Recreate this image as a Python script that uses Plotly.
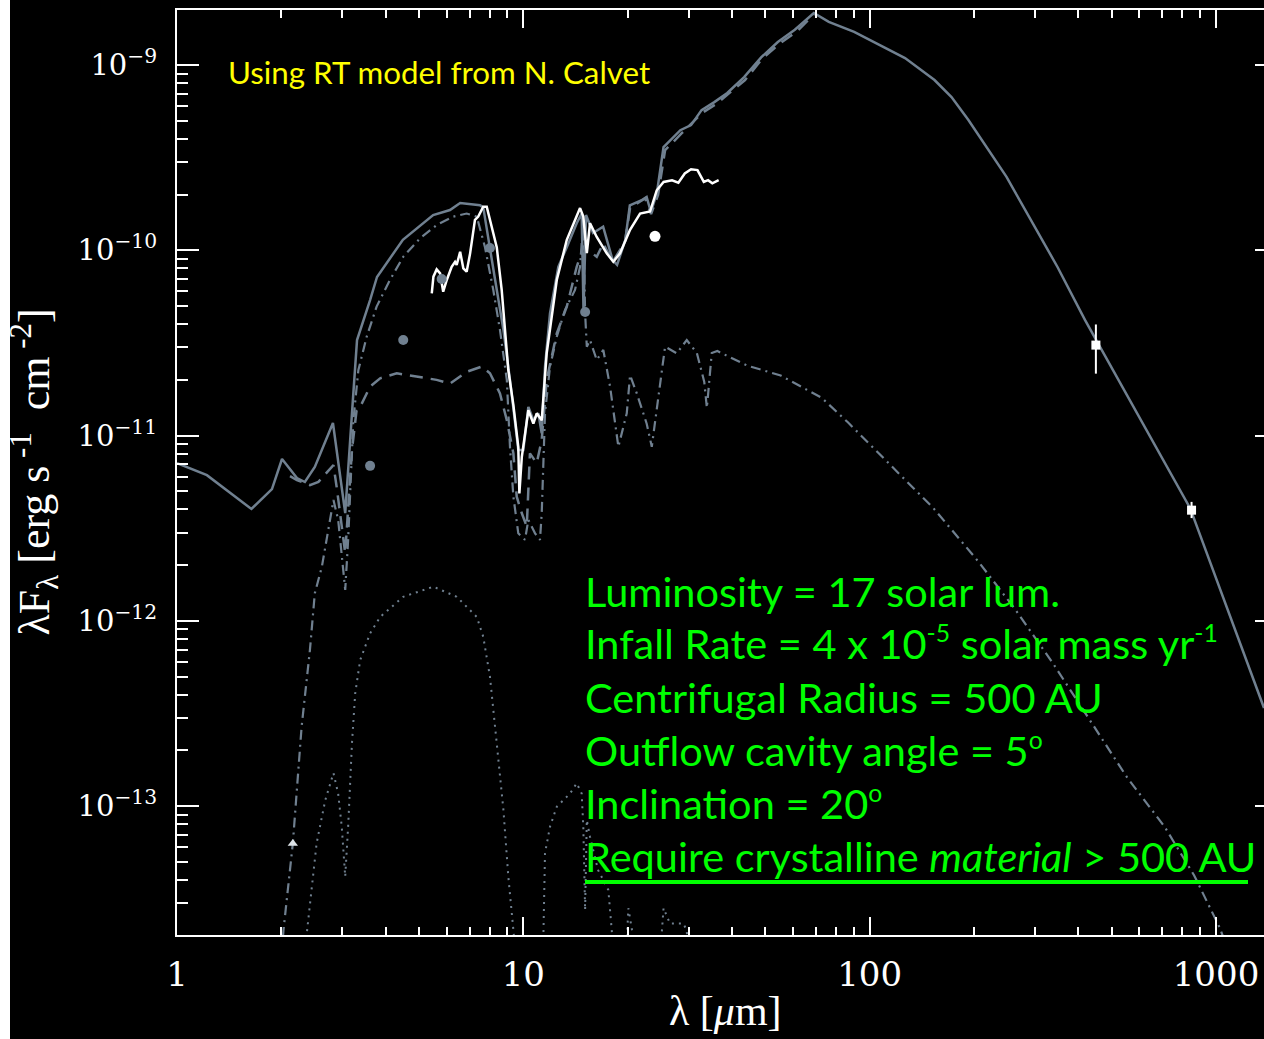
import plotly.graph_objects as go

# ---------------- data (wavelength in micron, lambda*F_lambda in erg/s/cm^2) -------------
total_wl = [1.00, 1.22, 1.64, 1.88, 2.01, 2.22, 2.34, 2.50, 2.82, 3.06, 3.22, 3.31, 3.61, 3.78,
            4.49, 5.49, 6.14, 6.57, 7.50, 7.66, 8.29, 8.76, 9.15, 9.67, 10.0, 10.34, 10.69,
            11.05, 11.30, 11.55, 11.94, 12.62, 13.35, 14.26, 14.74, 14.92, 15.17, 15.9, 17.0,
            18.1, 18.65, 19.7, 20.3, 22.06, 22.7, 23.35, 24.3, 25.4, 28.4, 30.5, 32.7, 35.6,
            38.8, 43.4, 48.6, 54.3, 60.8, 69.0, 76.2, 90.2, 126.5, 153.9, 172.3, 192.8, 248.4,
            348.6, 418.4, 842, 1376]
total_flux = [7.11e-12, 6.12e-12, 4.02e-12, 5.15e-12, 7.48e-12, 5.90e-12, 5.62e-12, 6.78e-12,
              1.17e-11, 3.82e-12, 1.56e-11, 3.28e-11, 5.39e-11, 7.18e-11, 1.14e-10, 1.55e-10,
              1.65e-10, 1.80e-10, 1.75e-10, 1.71e-10, 6.92e-11, 3.72e-11, 2.0e-11, 8.36e-12,
              8.36e-12, 1.43e-11, 1.21e-11, 1.32e-11, 1.03e-11, 2.36e-11, 4.57e-11, 8.15e-11,
              1.04e-10, 1.40e-10, 1.58e-10, 4.76e-11, 1.55e-10, 1.24e-10, 1.34e-10, 8.87e-11,
              8.34e-11, 1.14e-10, 1.75e-10, 1.87e-10, 1.94e-10, 1.61e-10, 2.04e-10, 3.61e-10,
              4.45e-10, 4.74e-10, 5.71e-10, 6.31e-10, 7.07e-10, 8.61e-10, 1.10e-9, 1.33e-9,
              1.55e-9, 1.91e-9, 1.71e-9, 1.51e-9, 1.09e-9, 8.3e-10, 6.72e-10, 5.05e-10, 2.49e-10,
              8.13e-11, 4.21e-11, 4.06e-12, 3.39e-13]

dashed_wl = [2.12, 2.22, 2.42, 2.56, 2.83, 2.89, 3.06, 3.20, 3.30, 3.38, 3.61, 3.86, 4.31, 5.03,
             5.62, 6.14, 6.86, 7.59, 8.01, 8.56, 8.96, 9.36, 9.57, 9.90, 10.23, 10.45, 10.93,
             11.30, 11.68, 12.49, 13.35, 14.26, 14.90, 15.41, 16.29, 17.02, 18.1, 19.66, 20.33,
             22.46, 23.38, 24.49, 25.66, 28.72, 32.81, 36.03, 43.67, 48.9, 55.1, 61.7, 69.1]
dashed_flux = [6.05e-12, 5.76e-12, 5.41e-12, 5.63e-12, 6.93e-12, 5.3e-12, 2.32e-12, 8.36e-12,
               1.37e-11, 1.43e-11, 1.84e-11, 2.04e-11, 2.17e-11, 2.08e-11, 2.0e-11, 1.91e-11,
               2.21e-11, 2.36e-11, 2.17e-11, 1.69e-11, 1.21e-11, 8.02e-12, 4.68e-12, 3.81e-12,
               3.23e-12, 8.02e-12, 7.1e-12, 9.47e-12, 2.0e-11, 3.56e-11, 4.97e-11, 8.15e-11,
               1.04e-10, 1.0e-10, 9.23e-11, 1.09e-10, 8.65e-11, 1.11e-10, 1.69e-10, 1.91e-10,
               1.57e-10, 1.99e-10, 3.47e-10, 4.3e-10, 5.51e-10, 6.16e-10, 8.3e-10, 1.08e-9,
               1.31e-9, 1.52e-9, 1.88e-9]

dashdot_wl = [2.00, 2.03, 2.16, 2.29, 2.42, 2.50, 2.62, 2.74, 2.83, 2.92, 3.00, 3.06, 3.12, 3.23,
              3.34, 3.53, 3.77, 4.12, 4.50, 5.03, 5.62, 6.28, 6.86, 7.34, 7.75, 8.19, 8.56, 8.96,
              9.15, 9.36, 9.67, 10.11, 10.34, 10.81, 11.17, 11.30, 11.55, 11.94, 12.49, 13.19,
              14.10, 14.58, 14.90, 15.08, 15.25, 15.58, 16.29, 17.02, 17.80, 18.81, 19.89, 20.33,
              21.26, 22.71, 23.49, 24.81, 25.66, 27.73, 29.64, 31.70, 33.30, 33.88, 35.0, 36.33,
              44.26, 55.34, 72.7, 86.5, 113.5, 152.8, 205.6, 263.6, 337.7, 433.1, 553.7, 710.2,
              864.9, 1027.6, 1069]
dashdot_flux = [1.5e-14, 2.15e-14, 6.3e-14, 2.69e-13, 6.97e-13, 1.41e-12, 1.96e-12, 3.23e-12,
                4.49e-12, 3.51e-12, 2.13e-12, 1.47e-12, 2.74e-12, 1.21e-11, 2.26e-11, 3.42e-11,
                4.97e-11, 6.92e-11, 9.23e-11, 1.16e-10, 1.37e-10, 1.52e-10, 1.58e-10, 1.52e-10,
                1.04e-10, 6.11e-11, 3.72e-11, 2.0e-11, 8.71e-12, 4.68e-12, 2.97e-12, 2.74e-12,
                3.51e-12, 2.97e-12, 2.74e-12, 3.81e-12, 1.32e-11, 2.36e-11, 3.42e-11, 4.76e-11,
                6.11e-11, 8.15e-11, 1.46e-10, 4.57e-11, 3.02e-11, 3.28e-11, 2.56e-11, 2.90e-11,
                1.84e-11, 8.71e-12, 1.32e-11, 2.12e-11, 1.69e-11, 1.16e-11, 8.71e-12, 1.84e-11,
                3.02e-11, 2.78e-11, 3.28e-11, 2.79e-11, 1.95e-11, 1.41e-11, 2.79e-11, 2.86e-11,
                2.39e-11, 2.11e-11, 1.60e-11, 1.18e-11, 7.08e-12, 4.06e-12, 2.10e-12, 1.15e-12,
                5.93e-13, 2.90e-13, 1.43e-13, 7.76e-14, 4.23e-14, 2.19e-14, 1.78e-14]

dotted_wl = [2.31, 2.37, 2.53, 2.68, 2.83, 2.92, 2.99, 3.06, 3.12, 3.20, 3.27, 3.38, 3.61, 3.86,
             4.50, 5.50, 6.42, 7.34, 7.66, 8.01, 8.38, 8.76, 9.05, 9.36, 9.53,
             11.25, 11.43, 11.55, 11.94, 12.49, 13.64, 14.26, 14.74, 14.90, 15.08, 15.25, 15.58,
             16.43, 17.60, 18.0, 18.3,
             19.8, 20.1, 20.6, 20.9,
             24.8, 25.4, 26.5, 29.0, 29.6, 30.3]
dotted_flux = [1.5e-14, 2.06e-14, 6.3e-14, 1.08e-13, 1.51e-13, 1.17e-13, 7.76e-14, 4.17e-14,
               7.76e-14, 2.18e-13, 4.06e-13, 6.15e-13, 8.57e-13, 1.05e-12, 1.35e-12, 1.53e-12,
               1.35e-12, 1.05e-12, 8.22e-13, 5.0e-13, 2.18e-13, 9.55e-14, 4.17e-14, 2.15e-14,
               1.5e-14,
               1.5e-14, 2.06e-14, 5.57e-14, 7.76e-14, 9.94e-14, 1.17e-13, 1.33e-13, 1.17e-13,
               7.76e-14, 2.75e-14, 8.42e-14, 6.84e-14, 4.53e-14, 3.53e-14, 2.14e-14, 1.5e-14,
               1.5e-14, 2.82e-14, 2.14e-14, 1.5e-14,
               1.5e-14, 2.82e-14, 2.33e-14, 2.33e-14, 2.14e-14, 1.5e-14]

irs_wl = [5.44, 5.50, 5.62, 5.75, 5.87, 6.01, 6.21, 6.35, 6.42, 6.57, 6.71, 6.86, 7.02, 7.17,
          7.25, 7.41, 7.66, 7.84, 8.01, 8.38, 8.66, 9.05, 9.36, 9.67, 9.74, 9.90, 10.34, 10.69,
          10.93, 11.30, 11.68, 12.49, 13.35, 13.95, 14.58, 14.90, 15.25, 15.58, 16.29, 17.41,
          18.19, 19.02, 20.33, 21.73, 23.22, 24.28, 25.41, 26.88, 28.03, 29.25, 30.50, 31.83,
          33.20, 34.15, 35.13, 36.64]
irs_flux = [5.86e-11, 7.21e-11, 7.89e-11, 7.51e-11, 5.98e-11, 6.92e-11, 8.15e-11, 8.67e-11,
            8.34e-11, 9.82e-11, 8.0e-11, 7.67e-11, 9.63e-11, 1.29e-10, 1.46e-10, 1.52e-10,
            1.72e-10, 1.72e-10, 1.46e-10, 1.04e-10, 6.11e-11, 2.26e-11, 1.46e-11, 8.71e-12,
            4.88e-12, 7.69e-12, 1.37e-11, 1.16e-11, 1.32e-11, 1.21e-11, 2.78e-11, 6.92e-11,
            1.14e-10, 1.40e-10, 1.69e-10, 1.52e-10, 9.66e-11, 1.40e-10, 1.18e-10, 9.63e-11,
            8.67e-11, 9.63e-11, 1.29e-10, 1.58e-10, 1.62e-10, 2.11e-10, 2.34e-10, 2.39e-10,
            2.32e-10, 2.60e-10, 2.74e-10, 2.71e-10, 2.34e-10, 2.39e-10, 2.30e-10, 2.39e-10]

irac_wl = [3.61, 4.50, 5.81, 8.01, 15.08]
irac_flux = [6.87e-12, 3.28e-11, 7.0e-11, 1.03e-10, 4.65e-11]
mips_wl = [24.0]
mips_flux = [1.19e-10]
kband_wl = [2.16]
kband_flux = [6.3e-14]
submm_wl = [450, 850]
submm_flux = [3.08e-11, 3.96e-12]
submm_err_hi = [0.90e-11, 0.43e-12]
submm_err_lo = [0.92e-11, 0.37e-12]

x_tick_vals = [1, 10, 100, 1000]
x_tick_text = ["1", "10", "100", "1000"]
y_tick_vals = [1e-13, 1e-12, 1e-11, 1e-10, 1e-9]
y_tick_text = ["10<sup>\u221213</sup>", "10<sup>\u221212</sup>", "10<sup>\u221211</sup>",
               "10<sup>\u221210</sup>", "10<sup>\u22129</sup>"]

# ---------------- layout geometry ----------------
W, H = 1264, 1039
ML, MR, MT, MB = 177, 0, 10, 104
PW, PH = W - ML - MR, H - MT - MB


def pxp(x):
    return (x - ML) / PW


def pyp(y):
    return (H - MB - y) / PH


GRAY = "rgb(112,128,144)"

fig = go.Figure()
fig.add_trace(go.Scatter(x=dotted_wl, y=dotted_flux, mode="lines",
                         line=dict(color=GRAY, width=2, dash="2px,5px")))
fig.add_trace(go.Scatter(x=dashdot_wl, y=dashdot_flux, mode="lines",
                         line=dict(color=GRAY, width=2.2, dash="10px,5px,2px,5px")))
fig.add_trace(go.Scatter(x=dashed_wl, y=dashed_flux, mode="lines",
                         line=dict(color=GRAY, width=2.5, dash="13px,8px")))
fig.add_trace(go.Scatter(x=total_wl, y=total_flux, mode="lines",
                         line=dict(color=GRAY, width=2.5)))
fig.add_trace(go.Scatter(x=irs_wl, y=irs_flux, mode="lines",
                         line=dict(color="white", width=2.5)))
fig.add_trace(go.Scatter(x=irac_wl, y=irac_flux, mode="markers",
                         marker=dict(color=GRAY, size=10, symbol="circle")))
fig.add_trace(go.Scatter(x=mips_wl, y=mips_flux, mode="markers",
                         marker=dict(color="white", size=11, symbol="circle")))
fig.add_trace(go.Scatter(x=kband_wl, y=kband_flux, mode="markers",
                         marker=dict(color="#dde3e8", size=9, symbol="triangle-up")))
fig.add_trace(go.Scatter(x=submm_wl, y=submm_flux, mode="markers",
                         marker=dict(color="white", size=9, symbol="square"),
                         error_y=dict(type="data", symmetric=False, array=submm_err_hi,
                                      arrayminus=submm_err_lo, color="white",
                                      thickness=2, width=0)))
# right-hand tick axis helper (invisible trace)
fig.add_trace(go.Scatter(x=submm_wl, y=submm_flux, yaxis="y2", mode="markers",
                         marker=dict(opacity=0), hoverinfo="skip"))

x_minor = [m * 10 ** e for e in range(0, 4) for m in range(2, 10)]
y_minor = [m * 10.0 ** e for e in range(-14, -8) for m in range(2, 10)]

xr = [0, 3.1386]
yr = [-13.695, -8.703]

fig.update_layout(
    width=W, height=H,
    margin=dict(l=ML, r=MR, t=MT, b=MB, pad=0),
    paper_bgcolor="black", plot_bgcolor="black",
    showlegend=False,
    xaxis=dict(type="log", range=xr, showgrid=False, zeroline=False,
               showline=True, linecolor="white", linewidth=2, mirror="ticks",
               ticks="inside", ticklen=18, tickwidth=2, tickcolor="white",
               tickmode="array", tickvals=x_tick_vals, ticktext=x_tick_text,
               ticklabelstandoff=8,
               tickfont=dict(family="DejaVu Serif", size=34, color="white"),
               minor=dict(ticks="inside", ticklen=8, tickwidth=2, tickcolor="white",
                          tickmode="array", tickvals=x_minor, showgrid=False)),
    yaxis=dict(type="log", range=yr, showgrid=False, zeroline=False,
               showline=True, linecolor="white", linewidth=2, mirror=False,
               ticks="inside", ticklen=22, tickwidth=2, tickcolor="white",
               tickmode="array", tickvals=y_tick_vals, ticktext=y_tick_text,
               ticklabelstandoff=12,
               tickfont=dict(family="DejaVu Serif", size=29, color="white"),
               minor=dict(ticks="inside", ticklen=11, tickwidth=2, tickcolor="white",
                          tickmode="array", tickvals=y_minor, showgrid=False)),
    yaxis2=dict(type="log", range=yr, overlaying="y", side="right", anchor="x",
                showgrid=False, zeroline=False, showline=False,
                ticks="inside", ticklen=9, tickwidth=2, tickcolor="white",
                tickmode="array", tickvals=y_tick_vals, showticklabels=False),
)

GREEN = "#00ff00"
gfont = dict(family="Lato", size=41.5, color=GREEN)
SUP = "<sup><span style='font-size:85%'>{}</span></sup>"
green_lines = [
    ("Luminosity = 17 solar lum.", 608),
    ("Infall Rate = 4 x 10" + SUP.format("-5") + " solar mass yr" + SUP.format("-1"), 660),
    ("Centrifugal Radius = 500 AU", 714),
    ("Outflow cavity angle = 5" + SUP.format("o"), 767),
    ("Inclination = 20" + SUP.format("o"), 820),
    ("Require crystalline <i>material</i> &gt; 500 AU", 873),
]
annotations = []
for txt, base in green_lines:
    annotations.append(dict(text=txt, x=pxp(583), y=pyp(base + 10), xref="paper", yref="paper",
                            xanchor="left", yanchor="bottom", showarrow=False, font=gfont))
annotations.append(dict(text="Using RT model from N. Calvet", x=pxp(226), y=pyp(85 + 8),
                        xref="paper", yref="paper", xanchor="left", yanchor="bottom",
                        showarrow=False, font=dict(family="Lato", size=31.3, color="#ffff00")))
annotations.append(dict(text="\u03bbF<sub>\u03bb</sub>\u00a0[erg\u00a0s<sup>\u00a0-1</sup>\u00a0\u00a0cm<sup>\u00a0-2</sup>]",
                        x=pxp(34), y=0.5, xref="paper", yref="paper", textangle=-90,
                        xanchor="center", yanchor="middle", showarrow=False,
                        font=dict(family="Liberation Serif", size=44, color="white")))
annotations.append(dict(text="\u03bb\u00a0[<i>\u03bc</i>m]", x=pxp(725), y=pyp(1036),
                        xref="paper", yref="paper", xanchor="center", yanchor="bottom",
                        showarrow=False,
                        font=dict(family="Liberation Serif", size=42, color="white")))
fig.update_layout(annotations=annotations)

fig.update_layout(shapes=[
    # underline of the last green line
    dict(type="line", xref="paper", yref="paper", x0=pxp(585), x1=pxp(1248),
         y0=pyp(882), y1=pyp(882), line=dict(color=GREEN, width=4)),
    # white strip at the left border of the slide image
    dict(type="rect", xref="paper", yref="paper", x0=pxp(0), x1=pxp(10), y0=pyp(H + 5),
         y1=pyp(-5), fillcolor="white", line=dict(width=0), layer="above"),
])

fig.write_html("out.html")
